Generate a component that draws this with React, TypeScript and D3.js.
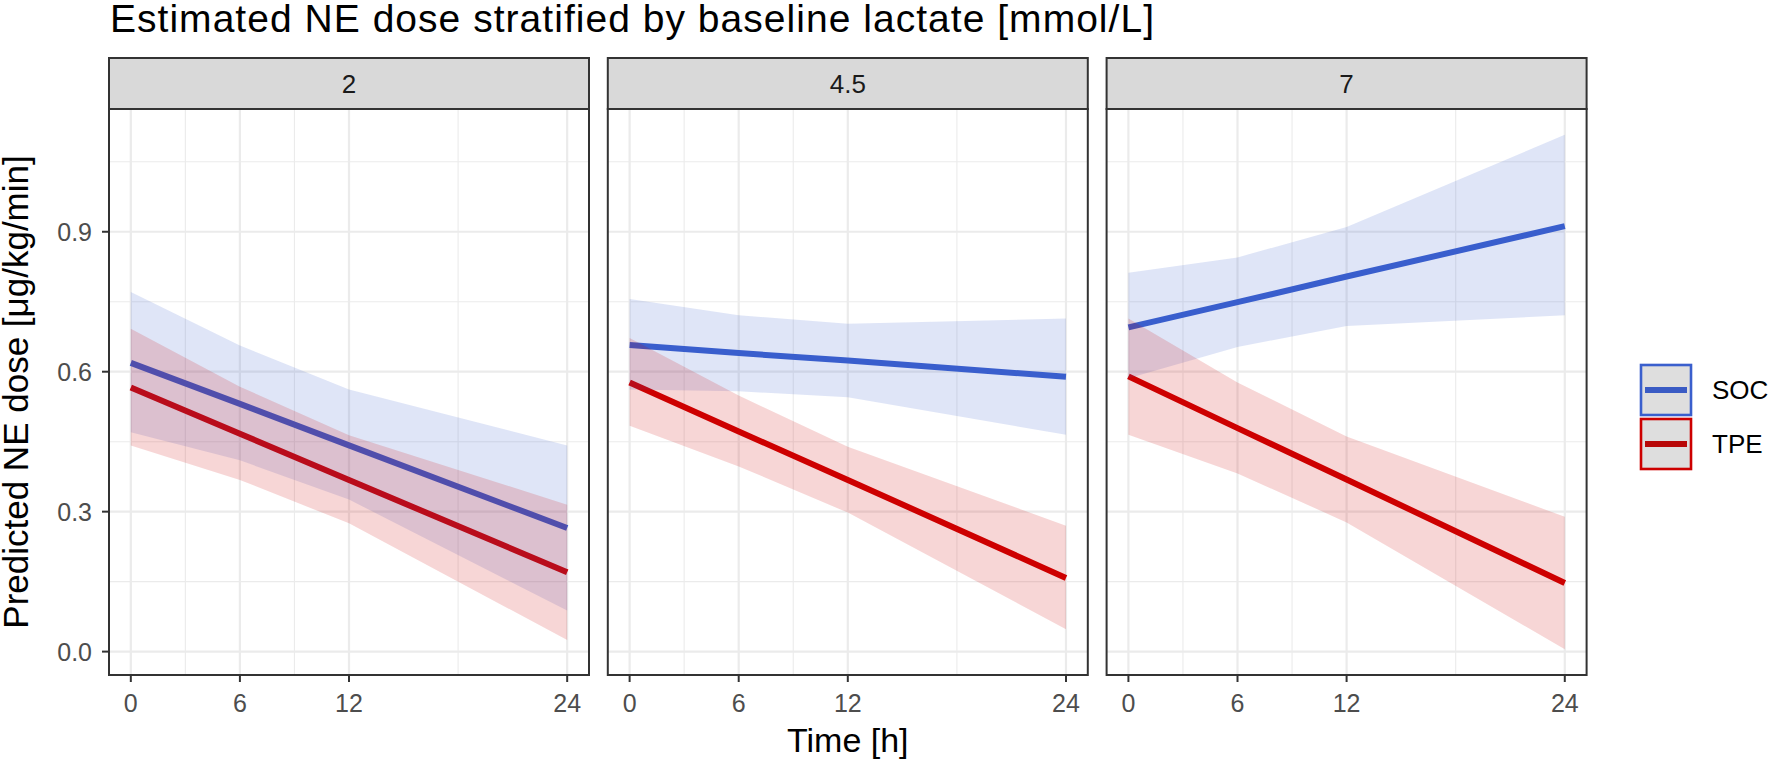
import * as d3 from 'd3'

const WIDTH = 1770
const HEIGHT = 759
const FONT = '"Liberation Sans", Arial, Helvetica, sans-serif'

const TITLE = 'Estimated NE dose stratified by baseline lactate [mmol/L]'
const X_TITLE = 'Time [h]'
const Y_TITLE = 'Predicted NE dose [μg/kg/min]'

// facets (baseline lactate)
const panels = ['2', '4.5', '7']
const times = [0, 6, 12, 24]
const xBreaks = [0, 6, 12, 24]
const xMinor = [3, 9, 18]
const yBreaks = [0, 0.3, 0.6, 0.9]
const yMinor = [0.15, 0.45, 0.75, 1.05]

const groups = ['SOC', 'TPE']
const groupColors = { SOC: '#3a5fcd', TPE: '#cd0000' }

// predicted values per facet, at the times above
const socFit = [
  [0.619, 0.531, 0.442, 0.265],
  [0.657, 0.640, 0.624, 0.589],
  [0.695, 0.749, 0.804, 0.912],
]
const socLow = [
  [0.470, 0.410, 0.326, 0.088],
  [0.562, 0.558, 0.545, 0.465],
  [0.586, 0.653, 0.698, 0.721],
]
const socHigh = [
  [0.771, 0.656, 0.562, 0.442],
  [0.756, 0.721, 0.703, 0.714],
  [0.812, 0.845, 0.910, 1.108],
]
const tpeFit = [
  [0.566, 0.467, 0.368, 0.170],
  [0.577, 0.472, 0.368, 0.158],
  [0.590, 0.479, 0.369, 0.147],
]
const tpeLow = [
  [0.442, 0.368, 0.275, 0.025],
  [0.484, 0.397, 0.298, 0.048],
  [0.465, 0.382, 0.277, 0.005],
]
const tpeHigh = [
  [0.692, 0.568, 0.464, 0.315],
  [0.672, 0.549, 0.439, 0.270],
  [0.714, 0.577, 0.461, 0.289],
]

const series = {
  SOC: { fit: socFit, low: socLow, high: socHigh },
  TPE: { fit: tpeFit, low: tpeLow, high: tpeHigh },
}

const PANEL = { left: 109, top: 109, width: 480, height: 566, gap: 18.8 }
const STRIP_H = 51

export default function App() {
  const allVals = [...socLow, ...socHigh, ...tpeLow, ...tpeHigh].flat()
  const [lo = 0, hi = 1] = d3.extent(allVals)
  const padY = (hi - lo) * 0.05
  const yScale = d3.scaleLinear().domain([lo - padY, hi + padY]).range([PANEL.height, 0])
  const padX = 24 * 0.05
  const xScale = d3.scaleLinear().domain([0 - padX, 24 + padX]).range([0, PANEL.width])

  const line = d3
    .line<number>()
    .x((_, i) => xScale(times[i]))
    .y((d) => yScale(d))

  const ribbon = (low: number[], high: number[]) =>
    d3
      .area<number>()
      .x((_, i) => xScale(times[i]))
      .y0((_, i) => yScale(low[i]))
      .y1((_, i) => yScale(high[i]))(times)

  const panelX = (i: number) => PANEL.left + i * (PANEL.width + PANEL.gap)

  return (
    <svg
      width={WIDTH}
      height={HEIGHT}
      style={{ position: 'absolute', left: 0, top: 0, background: '#fff' }}
      fontFamily={FONT}
    >
      <text x={110} y={32} fontSize={39} textLength={1044} fill="#000">
        {TITLE}
      </text>

      {panels.map((p, pi) => {
        const x0 = panelX(pi)
        return (
          <g key={p} transform={`translate(${x0},${PANEL.top})`}>
            {/* strip */}
            <rect
              x={0}
              y={-STRIP_H}
              width={PANEL.width}
              height={STRIP_H}
              fill="#d9d9d9"
              stroke="#333333"
              strokeWidth={2}
            />
            <text
              x={PANEL.width / 2}
              y={-STRIP_H / 2}
              dy="0.36em"
              textAnchor="middle"
              fontSize={26}
              fill="#1a1a1a"
            >
              {p}
            </text>

            {/* grid */}
            <rect x={0} y={0} width={PANEL.width} height={PANEL.height} fill="#fff" />
            {yMinor.map((v) => (
              <line key={`ym${v}`} x1={0} x2={PANEL.width} y1={yScale(v)} y2={yScale(v)} stroke="#ebebeb" strokeWidth={1.1} />
            ))}
            {xMinor.map((v) => (
              <line key={`xm${v}`} x1={xScale(v)} x2={xScale(v)} y1={0} y2={PANEL.height} stroke="#ebebeb" strokeWidth={1.1} />
            ))}
            {yBreaks.map((v) => (
              <line key={`y${v}`} x1={0} x2={PANEL.width} y1={yScale(v)} y2={yScale(v)} stroke="#ebebeb" strokeWidth={2.2} />
            ))}
            {xBreaks.map((v) => (
              <line key={`x${v}`} x1={xScale(v)} x2={xScale(v)} y1={0} y2={PANEL.height} stroke="#ebebeb" strokeWidth={2.2} />
            ))}

            {/* lines first, ribbons drawn over them */}
            {groups.map((g) => (
              <path
                key={`l${g}`}
                d={line(series[g].fit[pi]) || ''}
                fill="none"
                stroke={groupColors[g]}
                strokeWidth={6}
              />
            ))}
            {groups.map((g) => (
              <path
                key={`r${g}`}
                d={ribbon(series[g].low[pi], series[g].high[pi]) || ''}
                fill={groupColors[g]}
                fillOpacity={0.16}
                stroke="none"
              />
            ))}

            {/* border */}
            <rect
              x={0}
              y={0}
              width={PANEL.width}
              height={PANEL.height}
              fill="none"
              stroke="#333333"
              strokeWidth={2}
            />

            {/* x axis */}
            {xBreaks.map((v) => (
              <g key={`xt${v}`} transform={`translate(${xScale(v)},${PANEL.height})`}>
                <line y1={0} y2={7} stroke="#333333" strokeWidth={2} />
                <text y={37} textAnchor="middle" fontSize={25} fill="#4d4d4d">
                  {v}
                </text>
              </g>
            ))}

            {/* y axis on first panel */}
            {pi === 0 &&
              yBreaks.map((v) => (
                <g key={`yt${v}`} transform={`translate(0,${yScale(v)})`}>
                  <line x1={-7} x2={0} stroke="#333333" strokeWidth={2} />
                  <text x={-17} dy="0.36em" textAnchor="end" fontSize={25} fill="#4d4d4d">
                    {d3.format('.1f')(v)}
                  </text>
                </g>
              ))}
          </g>
        )
      })}

      <text
        x={(PANEL.left + panelX(2) + PANEL.width) / 2}
        y={752}
        textAnchor="middle"
        fontSize={34}
        fill="#000"
      >
        {X_TITLE}
      </text>
      <text
        transform={`translate(28,${PANEL.top + PANEL.height / 2}) rotate(-90)`}
        textAnchor="middle"
        fontSize={35}
        fill="#000"
      >
        {Y_TITLE}
      </text>

      {/* legend */}
      {groups.map((g, i) => {
        const ky = 365 + i * 54
        return (
          <g key={`lg${g}`} transform={`translate(1641,${ky})`}>
            <rect x={0} y={0} width={50} height={50} fill="#dedede" stroke={groupColors[g]} strokeWidth={2.6} />
            <line
              x1={4}
              x2={46}
              y1={25}
              y2={25}
              stroke={g === 'SOC' ? '#3a5bc4' : '#b80808'}
              strokeWidth={6}
            />
            <text x={71} y={25} dy="0.36em" fontSize={26} fill="#000">
              {g}
            </text>
          </g>
        )
      })}
    </svg>
  )
}
